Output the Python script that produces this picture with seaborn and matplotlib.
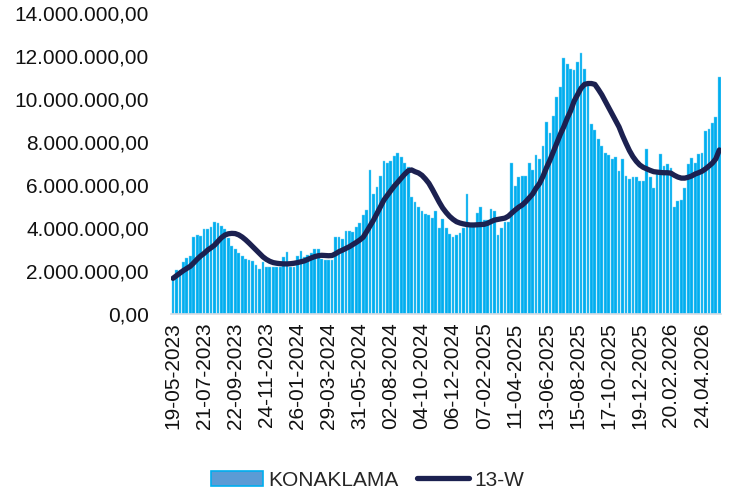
import numpy as np
import pandas as pd
import matplotlib
matplotlib.use("Agg")
import matplotlib.pyplot as plt
import seaborn as sns
from matplotlib.patches import Patch
from matplotlib.lines import Line2D
from matplotlib.ticker import FuncFormatter, MultipleLocator

# weekly accommodation figures (millions)
weeks = pd.date_range("2023-05-19", periods=159, freq="7D")

konaklama = [
    1.58, 2.05, 2.05, 2.43, 2.59, 2.70, 3.57, 3.66, 3.63, 3.94,
    3.94, 4.06, 4.28, 4.25, 4.11, 3.94, 3.55, 3.16, 3.01, 2.82,
    2.71, 2.56, 2.51, 2.45, 2.28, 2.11, 2.43, 2.17, 2.17, 2.17,
    2.20, 2.20, 2.67, 2.90, 2.20, 2.20, 2.70, 2.91, 2.67, 2.73,
    2.82, 3.04, 3.04, 2.54, 2.51, 2.51, 2.51, 3.60, 3.60, 3.47,
    3.86, 3.86, 3.81, 4.06, 4.22, 4.60, 4.86, 6.70, 5.58, 5.92,
    6.42, 7.12, 7.01, 7.13, 7.35, 7.47, 7.29, 7.01, 6.85, 5.42,
    5.23, 4.99, 4.81, 4.64, 4.62, 4.45, 4.81, 4.01, 4.42, 3.98,
    3.72, 3.57, 3.67, 3.75, 4.00, 5.57, 4.06, 4.10, 4.71, 4.96,
    4.37, 4.37, 4.87, 4.81, 3.67, 4.02, 4.30, 4.30, 7.01, 5.95,
    6.39, 6.42, 6.42, 7.04, 6.70, 7.38, 7.20, 7.81, 8.94, 8.40,
    9.21, 10.10, 10.54, 11.89, 11.61, 11.38, 11.35, 11.74, 12.12, 11.38,
    10.60, 8.84, 8.56, 8.12, 7.81, 7.47, 7.40, 7.19, 7.32, 6.65,
    7.19, 6.42, 6.28, 6.39, 6.39, 6.19, 6.19, 7.66, 6.39, 5.85,
    6.50, 7.43, 6.90, 6.98, 6.77, 4.97, 5.26, 5.29, 5.85, 6.98,
    7.26, 7.04, 7.43, 7.50, 8.53, 8.60, 8.87, 9.15, 11.00,
]

w13 = [
    1.66, 1.78, 1.90, 2.02, 2.12, 2.22, 2.38, 2.55, 2.70, 2.82,
    2.97, 3.08, 3.20, 3.38, 3.55, 3.67, 3.73, 3.75, 3.74, 3.68,
    3.58, 3.45, 3.30, 3.14, 2.98, 2.82, 2.66, 2.54, 2.45, 2.39,
    2.36, 2.34, 2.33, 2.33, 2.34, 2.36, 2.39, 2.43, 2.47, 2.54,
    2.61, 2.67, 2.71, 2.73, 2.72, 2.71, 2.72, 2.80, 2.90, 2.97,
    3.05, 3.13, 3.23, 3.33, 3.44, 3.57, 3.83, 4.10, 4.37, 4.68,
    5.00, 5.30, 5.52, 5.74, 5.95, 6.13, 6.32, 6.50, 6.66, 6.70,
    6.62, 6.56, 6.45, 6.28, 6.08, 5.80, 5.50, 5.20, 4.93, 4.72,
    4.54, 4.40, 4.29, 4.23, 4.19, 4.16, 4.14, 4.14, 4.15, 4.16,
    4.17, 4.22, 4.30, 4.37, 4.40, 4.43, 4.46, 4.55, 4.70, 4.84,
    4.97, 5.07, 5.22, 5.40, 5.58, 5.85, 6.07, 6.40, 6.80, 7.15,
    7.55, 7.95, 8.35, 8.70, 9.10, 9.45, 9.90, 10.20, 10.50, 10.68,
    10.72, 10.72, 10.68, 10.45, 10.20, 9.90, 9.60, 9.30, 9.00, 8.70,
    8.30, 7.94, 7.60, 7.32, 7.10, 6.93, 6.82, 6.75, 6.68, 6.62,
    6.60, 6.58, 6.57, 6.57, 6.55, 6.45, 6.37, 6.32, 6.32, 6.36,
    6.42, 6.51, 6.57, 6.64, 6.75, 6.88, 7.02, 7.22, 7.63,
]

tick_labels = [
    "19-05-2023", "21-07-2023", "22-09-2023", "24-11-2023", "26-01-2024",
    "29-03-2024", "31-05-2024", "02-08-2024", "04-10-2024", "06-12-2024",
    "07-02-2025", "11-04-2025", "13-06-2025", "15-08-2025", "17-10-2025",
    "19-12-2025", "20.02.2026", "24.04.2026",
]

BAR = "#00AEEF"
LINE = "#1C2150"

sns.set_theme(style="white")
plt.rcParams["font.family"] = ["Liberation Sans", "DejaVu Sans"]

df = pd.DataFrame({
    "week": weeks.strftime("%d-%m-%Y"),
    "KONAKLAMA": np.array(konaklama) * 1e6,
    "13-W": np.array(w13) * 1e6,
})

fig = plt.figure(figsize=(7.36, 4.98), dpi=100)
ax = fig.add_axes([0.2327, 0.3695, 0.747, 0.6044])

sns.barplot(data=df, x="week", y="KONAKLAMA", color=BAR, saturation=1,
            width=0.8, edgecolor="#7fd4f5", linewidth=0.3, ax=ax)
sns.lineplot(x=np.arange(len(df)), y=df["13-W"], color=LINE, linewidth=3.8,
             solid_capstyle="round", ax=ax)

ax.set_ylim(0, 14e6)
ax.set_xlim(-0.5, len(df) - 0.5)
ax.yaxis.set_major_locator(MultipleLocator(2e6))
ax.yaxis.set_major_formatter(FuncFormatter(
    lambda v, p: f"{v:,.2f}".replace(",", "X").replace(".", ",").replace("X", ".")))

ax.set_xticks(np.arange(0, 9 * len(tick_labels), 9))
ax.set_xticklabels(tick_labels, rotation=90, fontsize=15, color="#111111")
ax.tick_params(axis="x", length=0, pad=6)
ax.tick_params(axis="y", length=0, pad=16, labelsize=15, labelcolor="#111111")
ax.set_xlabel("")
ax.set_ylabel("")

for s in ["top", "right", "left"]:
    ax.spines[s].set_visible(False)
ax.spines["bottom"].set_color("#d5dbe3")
ax.spines["bottom"].set_linewidth(1.2)

handles = [
    Patch(facecolor="#5b9bd5", edgecolor=BAR, linewidth=1.2, label="KONAKLAMA"),
    Line2D([0], [0], color=LINE, linewidth=3.8, label="13-W"),
]
fig.legend(handles=handles, loc="center", bbox_to_anchor=(0.499, 0.036),
           ncol=2, frameon=False, fontsize=15, handlelength=2.5,
           handletextpad=0.25, columnspacing=0.9)

fig.savefig("out.png", dpi=100)
